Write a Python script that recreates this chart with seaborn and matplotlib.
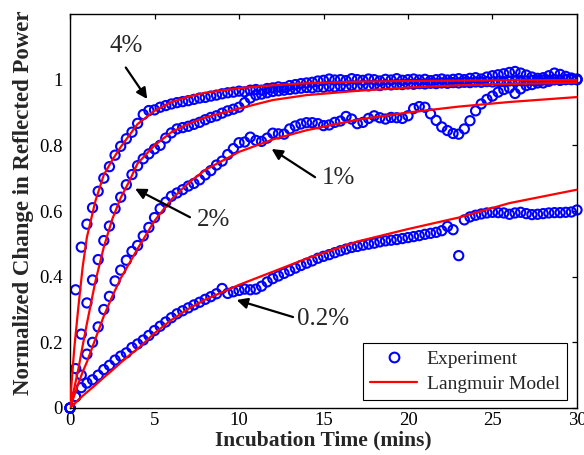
import numpy as np
import pandas as pd
import matplotlib
matplotlib.use("Agg")
import matplotlib.pyplot as plt
from matplotlib.lines import Line2D
import seaborn as sns

# ---------------- data ----------------
SAMPLE_STEP_MIN = 1 / 3          # experiment sampled every 20 s
N_SAMPLES = 91                   # 0 ... 30 min

exp_4pct = [
    0.000, 0.360, 0.490, 0.560, 0.610, 0.660, 0.700, 0.735, 0.770, 0.797,
    0.820, 0.840, 0.867, 0.894, 0.906, 0.908, 0.916, 0.921, 0.926, 0.930,
    0.933, 0.936, 0.940, 0.944, 0.946, 0.950, 0.953, 0.957, 0.960, 0.962,
    0.965, 0.963, 0.968, 0.970, 0.968, 0.973, 0.975, 0.978, 0.976, 0.982,
    0.985, 0.988, 0.990, 0.992, 0.996, 0.998, 1.002, 0.999, 1.000, 0.997,
    1.003, 1.000, 0.998, 1.002, 1.000, 0.996, 1.001, 0.999, 1.003, 0.998,
    1.000, 1.002, 0.999, 1.001, 0.997, 1.000, 1.002, 0.999, 1.001, 1.003,
    1.000, 1.004, 1.006, 1.002, 1.008, 1.012, 1.015, 1.018, 1.022, 1.025,
    1.020, 1.014, 1.008, 1.004, 1.006, 1.012, 1.020, 1.016, 1.010, 1.005,
    1.000,
]
exp_2pct = [
    0.000, 0.120, 0.225, 0.320, 0.390, 0.452, 0.510, 0.554, 0.607, 0.642,
    0.680, 0.711, 0.738, 0.759, 0.774, 0.789, 0.800, 0.822, 0.838, 0.850,
    0.854, 0.858, 0.864, 0.870, 0.878, 0.885, 0.890, 0.898, 0.905, 0.910,
    0.916, 0.930, 0.944, 0.953, 0.956, 0.960, 0.964, 0.966, 0.968, 0.970,
    0.972, 0.974, 0.976, 0.975, 0.978, 0.977, 0.980, 0.978, 0.981, 0.979,
    0.982, 0.980, 0.983, 0.981, 0.984, 0.982, 0.985, 0.984, 0.986, 0.985,
    0.987, 0.986, 0.988, 0.987, 0.989, 0.988, 0.990, 0.989, 0.991, 0.990,
    0.992, 0.991, 0.993, 0.992, 0.994, 0.993, 0.995, 0.994, 0.996, 0.995,
    0.997, 0.996, 0.998, 0.997, 0.999, 0.998, 1.000, 0.999, 1.001, 1.000,
    1.002,
]
exp_1pct = [
    0.000, 0.035, 0.100, 0.164, 0.200, 0.247, 0.300, 0.340, 0.387, 0.420,
    0.450, 0.477, 0.495, 0.524, 0.550, 0.580, 0.607, 0.627, 0.645, 0.655,
    0.665, 0.676, 0.684, 0.695, 0.710, 0.723, 0.740, 0.752, 0.772, 0.790,
    0.808, 0.810, 0.825, 0.815, 0.812, 0.822, 0.837, 0.835, 0.834, 0.850,
    0.859, 0.865, 0.869, 0.869, 0.866, 0.860, 0.862, 0.870, 0.874, 0.888,
    0.880, 0.866, 0.870, 0.882, 0.890, 0.884, 0.880, 0.885, 0.884, 0.882,
    0.890, 0.912, 0.918, 0.916, 0.896, 0.876, 0.856, 0.845, 0.836, 0.834,
    0.850, 0.875, 0.905, 0.926, 0.940, 0.950, 0.962, 0.970, 0.975, 0.958,
    0.972, 0.982, 0.985, 0.990, 0.990, 0.995, 1.000, 0.998, 1.000, 1.002,
    1.000,
]
exp_02pct = [
    0.000, 0.034, 0.062, 0.076, 0.086, 0.100, 0.117, 0.130, 0.146, 0.158,
    0.168, 0.184, 0.195, 0.207, 0.221, 0.236, 0.249, 0.262, 0.275, 0.287,
    0.296, 0.305, 0.314, 0.322, 0.331, 0.339, 0.348, 0.364, 0.349, 0.354,
    0.358, 0.362, 0.360, 0.362, 0.371, 0.384, 0.394, 0.402, 0.410, 0.418,
    0.426, 0.434, 0.441, 0.448, 0.456, 0.462, 0.467, 0.473, 0.479, 0.484,
    0.489, 0.492, 0.496, 0.499, 0.502, 0.506, 0.509, 0.511, 0.513, 0.516,
    0.519, 0.522, 0.525, 0.529, 0.532, 0.535, 0.540, 0.553, 0.543, 0.464,
    0.573, 0.582, 0.587, 0.591, 0.594, 0.596, 0.595, 0.594, 0.590, 0.594,
    0.596, 0.592, 0.589, 0.590, 0.592, 0.594, 0.595, 0.595, 0.596, 0.597,
    0.603,
]

model_time = [0, 0.1, 0.25, 0.5, 0.75, 1, 1.5, 2, 2.5, 3, 3.5, 4, 5, 6, 7, 8,
              10, 12, 14, 17, 20, 23, 26, 30]
model_4pct = [0, 0.08, 0.18, 0.31, 0.43, 0.52, 0.63, 0.71, 0.755, 0.795, 0.83,
              0.865, 0.905, 0.932, 0.948, 0.96, 0.974, 0.983, 0.989, 0.994,
              0.996, 0.997, 0.998, 0.999]
model_2pct = [0, 0.025, 0.06, 0.12, 0.19, 0.257, 0.385, 0.49, 0.575, 0.64, 0.69,
              0.745, 0.80, 0.84, 0.865, 0.885, 0.912, 0.938, 0.953, 0.966,
              0.976, 0.983, 0.987, 0.991]
model_1pct = [0, 0.015, 0.038, 0.075, 0.11, 0.14, 0.21, 0.28, 0.34, 0.395,
              0.44, 0.485, 0.57, 0.635, 0.685, 0.725, 0.78, 0.818, 0.846,
              0.878, 0.900, 0.918, 0.932, 0.947]
model_02pct = [0, 0.005, 0.012, 0.025, 0.037, 0.048, 0.07, 0.093, 0.115, 0.138,
               0.16, 0.18, 0.228, 0.268, 0.302, 0.33, 0.375, 0.415, 0.455,
               0.507, 0.545, 0.58, 0.624, 0.665]

concentrations = ["4%", "2%", "1%", "0.2%"]
x_ticks = [0, 5, 10, 15, 20, 25, 30]
y_ticks = [0, 0.2, 0.4, 0.6, 0.8, 1.0]
y_tick_labels = ["0", "0.2", "0.4", "0.6", "0.8", "1"]

# ---------------- tables ----------------
time_min = np.arange(N_SAMPLES) * SAMPLE_STEP_MIN
exp_df = pd.concat(
    [pd.DataFrame({"t": time_min, "v": vals, "conc": c})
     for c, vals in zip(concentrations, [exp_4pct, exp_2pct, exp_1pct, exp_02pct])],
    ignore_index=True)
model_df = pd.concat(
    [pd.DataFrame({"t": model_time, "v": vals, "conc": c})
     for c, vals in zip(concentrations, [model_4pct, model_2pct, model_1pct, model_02pct])],
    ignore_index=True)

# ---------------- style ----------------
sns.set_theme(style="white")
plt.rcParams["font.family"] = ["Liberation Serif", "DejaVu Serif"]
plt.rcParams["mathtext.fontset"] = "stix"

W, H = 584, 455
fig = plt.figure(figsize=(W / 100, H / 100), dpi=100)
ax = fig.add_axes([70 / W, 1 - 408 / H, 507 / W, 394 / H])

BLUE = (0, 0, 1)
RED = (1, 0, 0)

sns.scatterplot(data=exp_df, x="t", y="v", ax=ax, marker="o", s=44,
                facecolor="none", edgecolor=BLUE, linewidth=1.5,
                legend=False, clip_on=False, zorder=2)
sns.lineplot(data=model_df, x="t", y="v", units="conc", estimator=None,
             sort=False, color=RED, linewidth=1.6, ax=ax, legend=False,
             zorder=3)

ax.set_xlim(0, 30)
ax.set_ylim(0, 1.2)
ax.set_xticks(x_ticks)
ax.set_xticklabels([str(t) for t in x_ticks])
ax.set_yticks(y_ticks)
ax.set_yticklabels(y_tick_labels)
ax.tick_params(direction="in", top=True, right=True, length=3.5, width=0.9,
               labelsize=13.5, colors="black")
ax.tick_params(axis="y", pad=5)
ax.tick_params(axis="x", pad=3)
for sp in ax.spines.values():
    sp.set_color("black")
    sp.set_linewidth(1.0)

ax.set_xlabel("Incubation Time (mins)", fontsize=15.5, fontweight="bold",
              labelpad=1)
ax.set_ylabel("Normalized Change in Reflected Power", fontsize=16.5,
              fontweight="bold")
ax.yaxis.set_label_coords(-0.071, 0.52)

# ---------------- annotations ----------------
arrow_kw = dict(arrowstyle="-|>", color="black", lw=1.6, mutation_scale=16,
                shrinkA=0, shrinkB=0)
labels = [
    ("4%", (3.3, 1.103), (3.3, 1.037), (4.57, 0.941)),
    ("2%", (8.5, 0.574), (7.1, 0.581), (3.85, 0.668)),
    ("1%", (15.9, 0.702), (14.5, 0.703), (11.93, 0.789)),
    ("0.2%", (15.0, 0.270), (13.2, 0.277), (9.86, 0.329)),
]
for txt, pos, tail, head in labels:
    ax.annotate("", xy=head, xytext=tail, arrowprops=arrow_kw, zorder=4)
    ax.text(pos[0], pos[1], txt, fontsize=18, ha="center", va="center",
            zorder=4)

# ---------------- legend ----------------
handles = [
    Line2D([], [], marker="o", ls="none", mfc="none", mec=BLUE, mew=1.5,
           ms=7, label="Experiment"),
    Line2D([], [], color=RED, lw=1.6, label="Langmuir Model"),
]
leg = ax.legend(handles=handles, loc="lower right",
                bbox_to_anchor=(567 / W, 1 - 400 / H),
                bbox_transform=fig.transFigure, borderaxespad=0,
                fontsize=14, frameon=True, fancybox=False, framealpha=1,
                edgecolor="black", handlelength=2.4, handletextpad=0.5,
                borderpad=0.38, labelspacing=0.38)
leg.get_frame().set_linewidth(0.8)

fig.savefig("out.png", dpi=100)
